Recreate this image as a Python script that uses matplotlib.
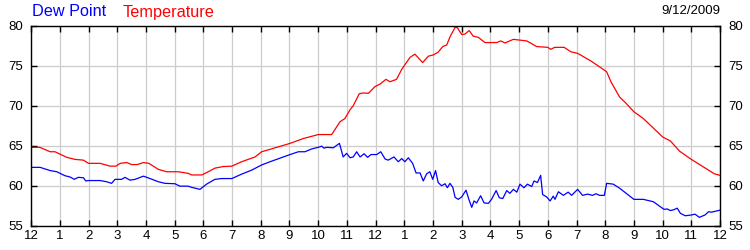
import matplotlib
matplotlib.use('Agg')
import matplotlib.pyplot as plt

# (hour since midnight, reading) pairs
temp_readings = [
    (0.0, 64.8), (0.3, 64.8), (0.66, 64.25), (0.83, 64.25), (1.24, 63.55), (1.52, 63.3),
    (1.82, 63.2), (2.0, 62.8), (2.4, 62.8), (2.75, 62.45), (2.95, 62.45), (3.1, 62.8),
    (3.33, 62.9), (3.5, 62.65), (3.7, 62.65), (3.91, 62.9), (4.1, 62.8), (4.43, 62.05),
    (4.72, 61.75), (5.13, 61.75), (5.3, 61.65), (5.47, 61.55), (5.59, 61.35), (5.94, 61.35),
    (6.17, 61.75), (6.4, 62.2), (6.69, 62.4), (6.99, 62.45), (7.33, 63.0), (7.8, 63.6),
    (8.03, 64.25), (8.32, 64.55), (9.02, 65.3), (9.48, 65.9), (10.0, 66.4), (10.47, 66.4),
    (10.76, 68.0), (10.93, 68.4), (11.11, 69.5), (11.22, 70.0), (11.43, 71.5), (11.57, 71.6),
    (11.75, 71.55), (11.98, 72.4), (12.15, 72.7), (12.36, 73.3), (12.5, 73.0), (12.73, 73.3),
    (12.91, 74.55), (13.2, 76.05), (13.37, 76.45), (13.64, 75.4), (13.84, 76.2), (14.01, 76.35),
    (14.18, 76.7), (14.34, 77.4), (14.48, 77.6), (14.59, 78.6), (14.77, 79.8), (14.85, 79.75),
    (15.0, 78.9), (15.11, 78.95), (15.26, 79.4), (15.4, 78.7), (15.58, 78.55), (15.81, 77.9),
    (16.22, 77.9), (16.36, 78.1), (16.51, 77.85), (16.8, 78.3), (17.27, 78.1), (17.61, 77.4),
    (18.0, 77.3), (18.1, 77.05), (18.24, 77.3), (18.57, 77.3), (18.8, 76.75), (19.04, 76.55),
    (19.5, 75.6), (19.85, 74.75), (20.05, 74.25), (20.2, 73.0), (20.5, 71.1), (20.73, 70.3),
    (21.0, 69.25), (21.33, 68.4), (21.68, 67.2), (22.0, 66.1), (22.27, 65.6), (22.6, 64.3),
    (23.0, 63.3), (23.4, 62.4), (23.8, 61.5), (24.0, 61.3),
]

dew_readings = [
    (0.0, 62.3), (0.31, 62.3), (0.66, 61.9), (0.89, 61.75), (1.18, 61.25), (1.35, 61.1),
    (1.5, 60.8), (1.64, 61.05), (1.82, 61.0), (1.9, 60.6), (1.99, 60.65), (2.4, 60.65),
    (2.63, 60.5), (2.8, 60.3), (2.92, 60.8), (3.15, 60.8), (3.27, 61.05), (3.44, 60.7),
    (3.62, 60.8), (3.91, 61.2), (4.14, 60.9), (4.43, 60.5), (4.66, 60.3), (5.01, 60.25),
    (5.18, 59.95), (5.47, 59.95), (5.59, 59.8), (5.88, 59.55), (6.11, 60.2), (6.4, 60.8),
    (6.64, 60.9), (6.99, 60.9), (7.33, 61.45), (7.68, 61.95), (8.03, 62.6), (8.32, 63.0),
    (8.55, 63.3), (9.02, 63.9), (9.31, 64.25), (9.54, 64.25), (9.77, 64.6), (10.0, 64.8),
    (10.12, 64.95), (10.2, 64.7), (10.3, 64.8), (10.53, 64.75), (10.74, 65.3), (10.87, 63.6),
    (10.99, 64.05), (11.11, 63.5), (11.22, 63.6), (11.34, 64.25), (11.46, 63.6), (11.6, 64.0),
    (11.72, 63.55), (11.84, 63.9), (12.04, 63.9), (12.18, 64.25), (12.33, 63.35), (12.44, 63.2),
    (12.64, 63.6), (12.79, 63.0), (12.91, 63.4), (13.02, 63.0), (13.14, 63.5), (13.29, 62.8),
    (13.41, 61.6), (13.55, 61.6), (13.66, 60.6), (13.78, 61.5), (13.89, 61.75), (13.99, 60.8),
    (14.09, 61.9), (14.18, 60.4), (14.3, 60.0), (14.42, 60.25), (14.5, 59.75), (14.59, 60.3),
    (14.69, 59.8), (14.77, 58.55), (14.88, 58.3), (15.0, 58.6), (15.15, 59.45), (15.25, 58.3),
    (15.35, 57.3), (15.43, 58.1), (15.52, 57.85), (15.66, 58.75), (15.78, 57.85), (15.93, 57.8),
    (16.04, 58.3), (16.2, 59.4), (16.31, 58.5), (16.43, 58.4), (16.57, 59.4), (16.68, 59.05),
    (16.8, 59.55), (16.92, 59.2), (17.03, 60.2), (17.17, 59.75), (17.29, 60.2), (17.44, 59.9),
    (17.52, 60.6), (17.64, 60.4), (17.75, 61.3), (17.82, 58.9), (17.96, 58.6), (18.08, 58.1),
    (18.19, 58.7), (18.25, 58.3), (18.37, 59.25), (18.54, 58.8), (18.71, 59.2), (18.83, 58.8),
    (19.04, 59.55), (19.21, 58.8), (19.39, 58.95), (19.56, 58.8), (19.68, 59.0), (19.8, 58.8),
    (19.97, 58.8), (20.05, 60.3), (20.28, 60.2), (20.5, 59.7), (20.73, 59.05), (21.0, 58.3),
    (21.33, 58.3), (21.68, 58.0), (22.05, 57.05), (22.16, 57.1), (22.27, 56.9), (22.39, 57.0),
    (22.51, 57.2), (22.62, 56.55), (22.79, 56.25), (23.01, 56.35), (23.13, 56.45), (23.28, 56.05),
    (23.48, 56.35), (23.6, 56.75), (23.71, 56.7), (24.0, 56.95),
]

hour_labels = ['12'] + [str(h) for h in range(1, 12)] + ['12'] + [str(h) for h in range(1, 12)] + ['12']
y_ticks = [55, 60, 65, 70, 75, 80]
date_text = '9/12/2009'

temp_hours, temperature = zip(*temp_readings)
dew_hours, dew_point = zip(*dew_readings)

plt.rcParams['font.family'] = ['Liberation Sans', 'DejaVu Sans']

fig = plt.figure(figsize=(7.5, 2.5), dpi=100)
ax = fig.add_axes([0.0416, 0.097, 0.9184, 0.8])

ax.plot(temp_hours, temperature, color='#ff0000', lw=0.9)
ax.plot(dew_hours, dew_point, color='#0000ff', lw=0.9)

ax.set_xlim(0, 24)
ax.set_ylim(55, 80)
ax.set_xticks(range(25))
ax.set_xticklabels(hour_labels)
ax.set_yticks(y_ticks)
ax.grid(True, color='#cccccc', lw=0.9)
ax.set_axisbelow(True)
ax.tick_params(direction='in', length=4, width=1, top=True, right=True,
               labelright=True, labelsize=9.5, pad=3, colors='black')
ax.tick_params(axis='y', pad=6)
for sp in ax.spines.values():
    sp.set_linewidth(1)

fig.text(0.043, 0.952, 'Dew Point', color='#0000ff', fontsize=11.7, va='center')
fig.text(0.164, 0.952, 'Temperature', color='#ff0000', fontsize=11.7, va='center')
fig.text(0.96, 0.955, date_text, color='black', fontsize=9.5, va='center', ha='right')

fig.savefig('out.png', dpi=100)
